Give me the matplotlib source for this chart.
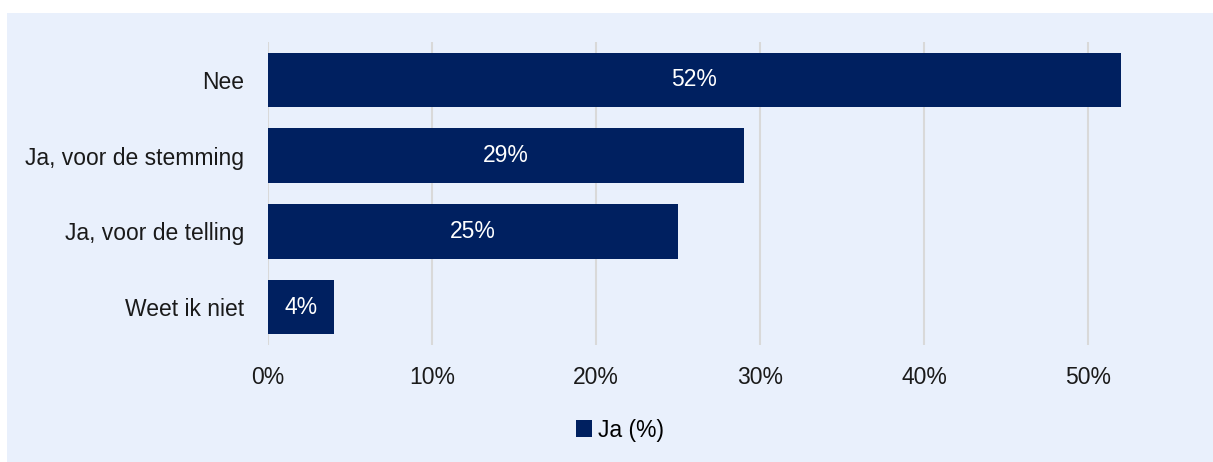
import matplotlib.pyplot as plt
from matplotlib.patches import Rectangle, Patch

# Gegevens van de grafiek
categories = ["Nee", "Ja, voor de stemming", "Ja, voor de telling", "Weet ik niet"]
values = [52, 29, 25, 4]
x_ticks = [0, 10, 20, 30, 40, 50]
series_name = "Ja (%)"

bar_color = "#002060"
bg_color = "#E9F0FC"
grid_color = "#D9D9D9"
fs = 16.5

plt.rcParams['font.family'] = ['Liberation Sans', 'DejaVu Sans']

fig = plt.figure(figsize=(12.13, 4.62), dpi=100, facecolor="white")
# lichtblauwe achtergrond (onder de assen)
fig.patches.append(Rectangle((7 / 1213, 0), 1 - 7 / 1213, 1 - 13 / 462,
                             transform=fig.transFigure, facecolor=bg_color,
                             edgecolor="none", zorder=-10))

W, H = 1213, 462
ax = fig.add_axes([268 / W, 1 - 345 / H, (1170 - 268) / W, (345 - 42) / H])
ax.set_facecolor("none")

y = list(range(len(categories)))
bars = ax.barh(y, values, height=0.72, color=bar_color, zorder=3)
for b, v in zip(bars, values):
    ax.text(v / 2, b.get_y() + b.get_height() / 2, f"{v}%", color="white",
            ha="center", va="center", fontsize=fs, zorder=4)

ax.set_ylim(len(categories) - 0.5, -0.5)
ax.set_xlim(0, 55)
ax.set_yticks(y)
ax.set_yticklabels(categories, fontsize=fs)
ax.set_xticks(x_ticks)
ax.set_xticklabels([f"{t}%" for t in x_ticks], fontsize=fs)
ax.tick_params(axis="both", length=0, colors="#1a1a1a")
ax.tick_params(axis="y", pad=17)
ax.tick_params(axis="x", pad=15)
for s in ax.spines.values():
    s.set_visible(False)
for t in x_ticks:
    ax.axvline(t, color=grid_color, linewidth=1.5, zorder=1)

fig.legend(handles=[Patch(facecolor=bar_color, label=series_name)],
           loc="center", bbox_to_anchor=(620 / W, 1 - 430 / H), frameon=False,
           fontsize=fs, handlelength=0.7, handleheight=0.7, handletextpad=0.3)

fig.savefig("out.png", dpi=100, facecolor="white")
